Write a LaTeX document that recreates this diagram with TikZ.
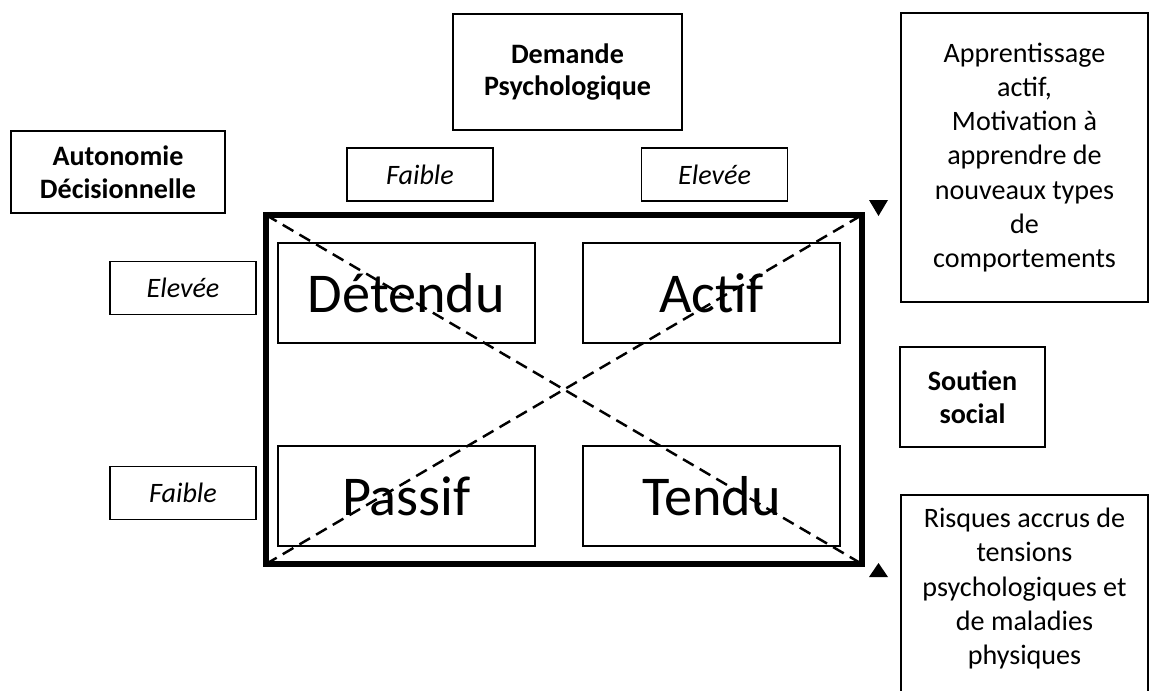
\documentclass[tikz,border=0pt]{standalone}
\usepackage{fontspec}
\setmainfont{Carlito}
\usetikzlibrary{positioning}

\tikzstyle{boite}=[draw, line width=1.1pt, inner sep=0pt, align=center, font=\fontsize{16}{18.5}\selectfont]
\tikzstyle{titre}=[boite, font=\fontsize{16}{18.5}\selectfont\bfseries]
\tikzstyle{niveau}=[boite, font=\fontsize{16}{18.5}\selectfont\itshape, minimum width=29.2mm, minimum height=10.6mm]
\tikzstyle{quadrant}=[boite, font=\fontsize{32}{38}\selectfont, minimum width=51.4mm, minimum height=20mm]
\tikzstyle{effet}=[boite, font=\fontsize{16}{19.5}\selectfont]
\tikzstyle{cadre}=[draw, line width=3.4pt, outer sep=0pt, inner sep=0pt, minimum width=119.2mm, minimum height=69.8mm]
\tikzstyle{diag}=[line width=1.4pt, dash pattern=on 7pt off 4pt]

\begin{document}
\begin{tikzpicture}[x=0.02cm, y=-0.02cm]
\useasboundingbox (0,0) rectangle (1149,690);
\clip (0,0) rectangle (1149,690);

% axes
\node[titre, minimum width=42.8mm, minimum height=16.4mm] (auto) at (118,172) {Autonomie\\Décisionnelle};
\node[titre, minimum width=45.8mm, minimum height=23.2mm] (dem) at (567.5,72) {Demande\\Psychologique};

\node[niveau] (demF) at (420,174.5) {Faible};
\node[niveau] (demE) at (714.5,174.5) {Elevée};
\node[niveau] (autoE) at (183,288) {Elevée};
\node[niveau] (autoF) at (183,493) {Faible};

% cadre et quadrants
\node[cadre] (grille) at (564,389.5) {};

\node[quadrant] (det) at (406.5,293) {Détendu};
\node[quadrant] (act) at (711.5,293) {Actif};
\node[quadrant] (pas) at (406.5,496) {Passif};
\node[quadrant] (ten) at (711.5,496) {Tendu};

\draw[diag] (grille.north west) -- (grille.south east);
\draw[diag] (grille.south west) -- (grille.north east);

% fleches
\coordinate (hautD) at (878.5,216);
\coordinate (basD) at (878.5,563);
\fill (869,200) -- (888,200) -- (hautD) -- cycle;
\fill (869,577) -- (888,577) -- (basD) -- cycle;

% effets
\node[effet, minimum width=49.4mm, minimum height=57.8mm] (appr) at (1024.5,157.5)
  {Apprentissage\\actif,\\Motivation à\\apprendre de\\nouveaux types\\de\\comportements};
\node[titre, minimum width=29mm, minimum height=20mm] (sout) at (972.5,397) {Soutien\\social};
\node[boite, minimum width=49.4mm, minimum height=46mm] (risqB) at (1024.5,610) {};
\node[effet, draw=none, anchor=north] (risq) at (1024.5,507)
  {Risques accrus de\\tensions\\psychologiques et\\de maladies\\physiques};

\end{tikzpicture}
\end{document}
